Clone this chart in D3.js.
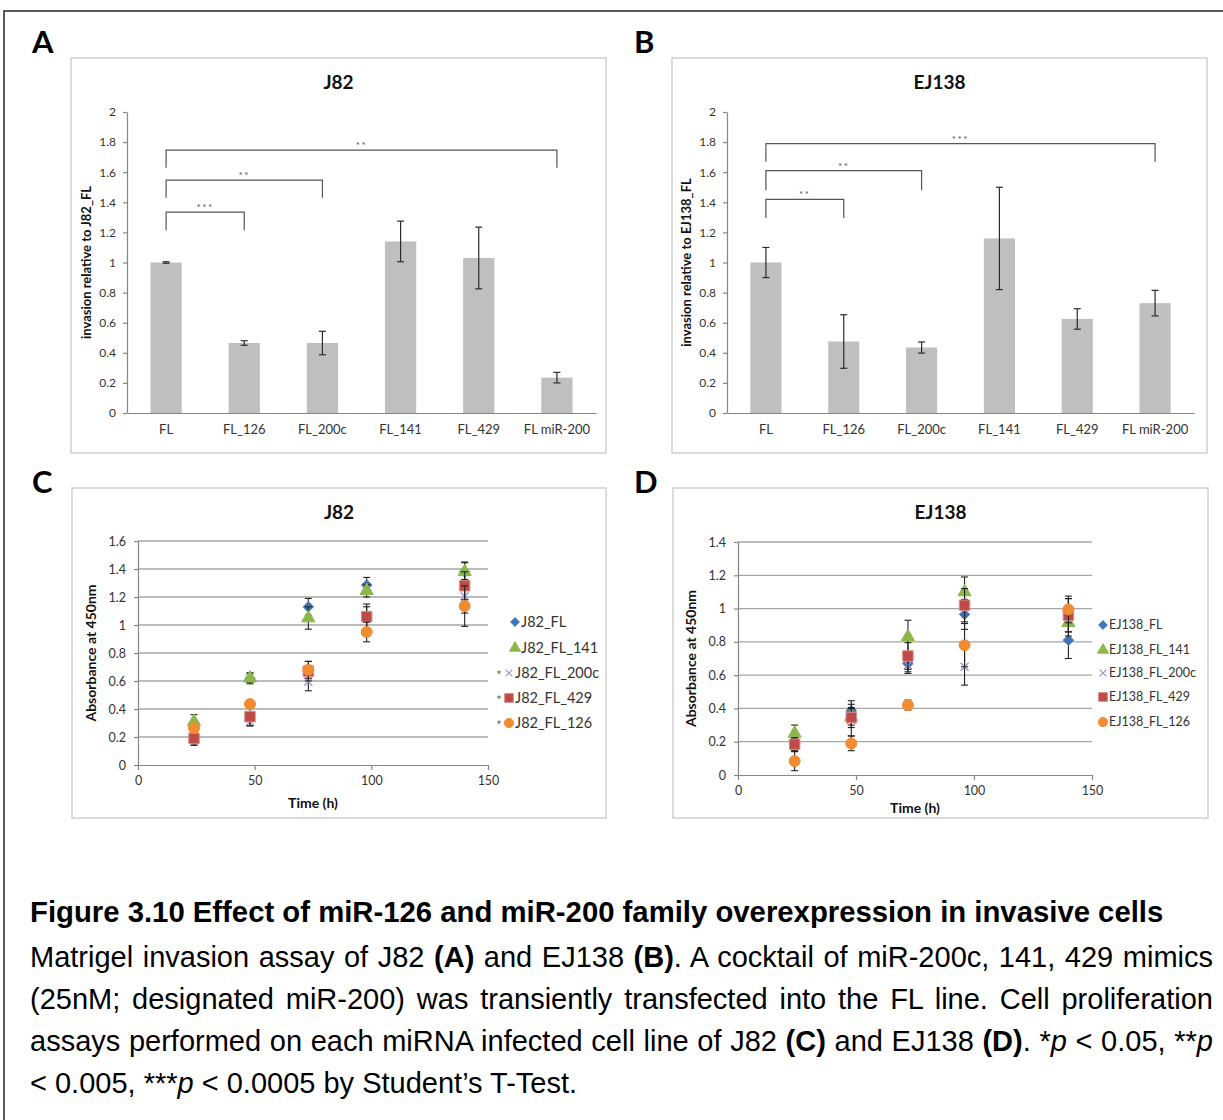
<!DOCTYPE html>
<html>
<head>
<meta charset="utf-8">
<script src="https://cdn.jsdelivr.net/npm/d3@7"></script>
<style>
  body { margin: 0; background: #fff; }
  #wrap { position: relative; width: 1223px; height: 1120px; overflow: hidden; }
  svg { position: absolute; left: 0; top: 0; }
  svg text { font-family: Lato, "Open Sans", sans-serif; }
  .cap { position: absolute; left: 30px; width: 1183px; font-family: "Liberation Sans", Arial, sans-serif; font-size: 29px; color: #000; }
  .head { font-weight: bold; line-height: 34px; font-size: 29.3px; }
  .body { line-height: 42px; }
  .body div { text-align: justify; text-align-last: justify; }
  .body div.last { text-align-last: left; }
</style>
</head>
<body>
<div id="wrap">
  <div class="cap head" style="top:895px">Figure 3.10 Effect of miR-126 and miR-200 family overexpression in invasive cells</div>
  <div class="cap body" style="top:936px">
    <div>Matrigel invasion assay of J82 <b>(A)</b> and EJ138 <b>(B)</b>. A cocktail of miR-200c, 141, 429 mimics</div>
    <div>(25nM; designated miR-200) was transiently transfected into the FL line. Cell proliferation</div>
    <div>assays performed on each miRNA infected cell line of J82 <b>(C)</b> and EJ138 <b>(D)</b>. *<i>p</i> &lt; 0.05, **<i>p</i></div>
    <div class="last">&lt; 0.005, ***<i>p</i> &lt; 0.0005 by Student’s T-Test.</div>
  </div>
</div>
<script>
(function () {

    //bar chart data (panels A and B)
    var barCats = ["FL", "FL_126", "FL_200c", "FL_141", "FL_429", "FL miR-200"];
    var j82Inv = [1.0, 0.465, 0.465, 1.14, 1.03, 0.235];
    var j82InvErr = [0.005, 0.015, 0.078, 0.135, 0.205, 0.035];
    var ej138Inv = [1.0, 0.475, 0.435, 1.16, 0.625, 0.73];
    var ej138InvErr = [0.1, 0.178, 0.037, 0.34, 0.068, 0.085];
    var barTicks = [0, 0.2, 0.4, 0.6, 0.8, 1, 1.2, 1.4, 1.6, 1.8, 2];

    //significance brackets: compared against FL
    var j82SigTo = ["FL_126", "FL_200c", "FL miR-200"];
    var j82SigLevel = [1.335, 1.548, 1.747];
    var j82SigLeg = [1.215, 1.43, 1.63];
    var j82SigStars = ["***", "**", "**"];
    var ej138SigTo = ["FL_126", "FL_200c", "FL miR-200"];
    var ej138SigLevel = [1.42, 1.61, 1.79];
    var ej138SigLeg = [1.295, 1.48, 1.67];
    var ej138SigStars = ["**", "**", "***"];

    //proliferation data (panels C and D)
    var j82Hours = [24, 48, 73, 98, 140];
    var j82Names = ["J82_FL", "J82_FL_141", "J82_FL_200c", "J82_FL_429", "J82_FL_126"];
    var j82Starred = [false, false, true, true, true];
    var j82FL = [0.20, 0.62, 1.13, 1.285, 1.38];
    var j82FLErr = [0.03, 0.03, 0.06, 0.055, 0.07];
    var j82FL141 = [0.31, 0.62, 1.05, 1.245, 1.38];
    var j82FL141Err = [0.05, 0.04, 0.08, 0.045, 0.065];
    var j82FL200c = [0.19, 0.31, 0.595, 1.05, 1.205];
    var j82FL200cErr = [0.04, 0.03, 0.065, 0.08, 0.12];
    var j82FL429 = [0.19, 0.345, 0.67, 1.06, 1.28];
    var j82FL429Err = [0.05, 0.065, 0.07, 0.09, 0.1];
    var j82FL126 = [0.264, 0.435, 0.68, 0.95, 1.135];
    var j82FL126Err = [0.02, 0.02, 0.06, 0.07, 0.145];
    var j82AbsTicks = [0, 0.2, 0.4, 0.6, 0.8, 1, 1.2, 1.4, 1.6];

    var ej138Hours = [24, 48, 72, 96, 140];
    var ej138Names = ["EJ138_FL", "EJ138_FL_141", "EJ138_FL_200c", "EJ138_FL_429", "EJ138_FL_126"];
    var ej138Starred = [false, false, false, false, false];
    var ej138FL = [0.19, 0.386, 0.67, 0.965, 0.81];
    var ej138FLErr = [0.04, 0.06, 0.05, 0.09, 0.11];
    var ej138FL141 = [0.25, 0.35, 0.83, 1.10, 0.915];
    var ej138FL141Err = [0.05, 0.05, 0.10, 0.09, 0.08];
    var ej138FL200c = [0.18, 0.33, 0.66, 0.65, 0.96];
    var ej138FL200cErr = [0.04, 0.095, 0.05, 0.11, 0.1];
    var ej138FL429 = [0.185, 0.345, 0.715, 1.02, 0.96];
    var ej138FL429Err = [0.04, 0.06, 0.08, 0.1, 0.1];
    var ej138FL126 = [0.084, 0.19, 0.42, 0.78, 0.995];
    var ej138FL126Err = [0.058, 0.044, 0.03, 0.13, 0.08];
    var ej138AbsTicks = [0, 0.2, 0.4, 0.6, 0.8, 1, 1.2, 1.4];
    var hourTicks = [0, 50, 100, 150];

    //marker styles, same order as series
    var symX = {
        draw: function (ctx, size) {
            var r = Math.sqrt(size) / 2;
            ctx.moveTo(-r, -r); ctx.lineTo(r, r);
            ctx.moveTo(r, -r); ctx.lineTo(-r, r);
        }
    };
    var seriesSymbols = [d3.symbolDiamond2, d3.symbolTriangle, symX, d3.symbolSquare, d3.symbolCircle];
    var seriesSizes = [70, 75, 64, 110, 95];
    var seriesFill = ["#3f75b8", "#8cb84a", "none", "#bf4b48", "#f28c33"];
    var seriesStroke = ["#3f75b8", "#8cb84a", "#9d92c8", "#d98c8a", "#f28c33"];

    var axisGray = "#868686";
    var textGray = "#333";

    var svg = d3.select("#wrap").append("svg")
        .attr("width", 1223)
        .attr("height", 1120);

    //outer figure border
    svg.append("path")
        .attr("d", "M4,1120V11H1223")
        .attr("fill", "none")
        .attr("stroke", "#595959")
        .attr("stroke-width", 2);

    //panel letters
    [["A", 32, 53], ["B", 634, 53], ["C", 32, 493], ["D", 634, 493]].forEach(function (p) {
        svg.append("text")
            .attr("x", p[1])
            .attr("y", p[2])
            .style("font-size", "31px")
            .style("font-weight", "bold")
            .text(p[0]);
    });

    drawBarPanel({ x: 71, y: 58, w: 535, h: 395 }, { left: 127, right: 596, top: 112, bottom: 413 },
        "J82", "invasion relative to J82_FL", 86, j82Inv, j82InvErr,
        j82SigTo, j82SigLevel, j82SigLeg, j82SigStars);

    drawBarPanel({ x: 672, y: 58, w: 535, h: 395 }, { left: 727, right: 1194, top: 112, bottom: 413 },
        "EJ138", "invasion relative to EJ138_FL", 686, ej138Inv, ej138InvErr,
        ej138SigTo, ej138SigLevel, ej138SigLeg, ej138SigStars);

    drawScatterPanel({ x: 72, y: 488, w: 534, h: 330 }, { left: 138, right: 488, top: 541, bottom: 765 },
        "J82", 91, 803, j82Hours, [j82FL, j82FL141, j82FL200c, j82FL429, j82FL126],
        [j82FLErr, j82FL141Err, j82FL200cErr, j82FL429Err, j82FL126Err],
        j82Names, j82Starred, j82AbsTicks,
        { x: 515, y: [622, 648, 673, 698, 723], font: 14.5 });

    drawScatterPanel({ x: 673, y: 488, w: 535, h: 330 }, { left: 738, right: 1092, top: 542, bottom: 775 },
        "EJ138", 691, 808, ej138Hours, [ej138FL, ej138FL141, ej138FL200c, ej138FL429, ej138FL126],
        [ej138FLErr, ej138FL141Err, ej138FL200cErr, ej138FL429Err, ej138FL126Err],
        ej138Names, ej138Starred, ej138AbsTicks,
        { x: 1103, y: [625, 650, 673, 697, 722], font: 12.5 });

    function styleAxis(g, size) {
        g.select(".domain").attr("stroke", axisGray).attr("stroke-width", 1.2);
        g.selectAll(".tick line").attr("stroke", axisGray).attr("stroke-width", 1.2);
        g.selectAll(".tick text")
            .attr("fill", textGray)
            .style("font-size", size + "px")
            .style("font-family", "Lato, 'Open Sans', sans-serif");
    }

    function drawBarPanel(box, plot, title, yTitle, yTitleX, values, errs, sigTo, sigLevel, sigLeg, sigStars) {
        var g = svg.append("g");

        g.append("rect")
            .attr("x", box.x).attr("y", box.y)
            .attr("width", box.w).attr("height", box.h)
            .attr("fill", "#fff")
            .attr("stroke", "#d0d0d0")
            .attr("stroke-width", 1.5);

        var x = d3.scaleBand()
            .domain(barCats)
            .range([plot.left, plot.right])
            .paddingInner(0.6)
            .paddingOuter(0.3);

        var y = d3.scaleLinear()
            .domain([0, 2])
            .range([plot.bottom, plot.top]);

        //bars
        g.selectAll(".bar")
            .data(values)
            .enter()
            .append("rect")
            .attr("class", "bar")
            .attr("x", function (d, i) { return x(barCats[i]); })
            .attr("width", x.bandwidth())
            .attr("y", function (d) { return y(d); })
            .attr("height", function (d) { return y(0) - y(d); })
            .attr("fill", "#bfbfbf");

        //axes
        var yAxis = g.append("g")
            .attr("transform", "translate(" + plot.left + ",0)")
            .call(d3.axisLeft(y).tickValues(barTicks).tickSize(4).tickPadding(7).tickSizeOuter(0)
                .tickFormat(d3.format("~g")));
        styleAxis(yAxis, 12);

        var xAxis = g.append("g")
            .attr("transform", "translate(0," + plot.bottom + ")")
            .call(d3.axisBottom(x).tickSize(0).tickPadding(12));
        styleAxis(xAxis, 13);

        //error bars
        var eb = g.selectAll(".err")
            .data(values)
            .enter()
            .append("g")
            .attr("class", "err")
            .attr("stroke", "#2b2b2b")
            .attr("stroke-width", 1.2);
        eb.append("line")
            .attr("x1", function (d, i) { return x(barCats[i]) + x.bandwidth() / 2; })
            .attr("x2", function (d, i) { return x(barCats[i]) + x.bandwidth() / 2; })
            .attr("y1", function (d, i) { return y(d - errs[i]); })
            .attr("y2", function (d, i) { return y(d + errs[i]); });
        [-1, 1].forEach(function (s) {
            eb.append("line")
                .attr("x1", function (d, i) { return x(barCats[i]) + x.bandwidth() / 2 - 3.5; })
                .attr("x2", function (d, i) { return x(barCats[i]) + x.bandwidth() / 2 + 3.5; })
                .attr("y1", function (d, i) { return y(d + s * errs[i]); })
                .attr("y2", function (d, i) { return y(d + s * errs[i]); });
        });

        //significance brackets
        var x0 = x(barCats[0]) + x.bandwidth() / 2;
        sigTo.forEach(function (cat, i) {
            var x1 = x(cat) + x.bandwidth() / 2;
            g.append("path")
                .attr("d", "M" + x0 + "," + y(sigLeg[i]) + "V" + y(sigLevel[i]) + "H" + x1 + "V" + y(sigLeg[i]))
                .attr("fill", "none")
                .attr("stroke", "#555")
                .attr("stroke-width", 1.2);
            g.append("text")
                .attr("x", (x0 + x1) / 2)
                .attr("y", y(sigLevel[i]) - 1)
                .attr("text-anchor", "middle")
                .attr("fill", "#555")
                .style("font-size", "10px")
                .style("letter-spacing", "1.5px")
                .text(sigStars[i]);
        });

        //chart title
        g.append("text")
            .attr("x", box.x + box.w / 2)
            .attr("y", 89)
            .attr("text-anchor", "middle")
            .style("font-size", "19px")
            .style("font-weight", "bold")
            .attr("fill", "#111")
            .text(title);

        //y axis title
        g.append("text")
            .attr("transform", "translate(" + yTitleX + "," + ((plot.top + plot.bottom) / 2) + ") rotate(-90)")
            .attr("text-anchor", "middle")
            .attr("dy", "0.35em")
            .style("font-size", "13px")
            .style("font-weight", "bold")
            .attr("fill", "#111")
            .text(yTitle);
    }

    function drawScatterPanel(box, plot, title, yTitleX, xTitleY, hours, series, errs, names, starred, ticks, legend) {
        var g = svg.append("g");

        g.append("rect")
            .attr("x", box.x).attr("y", box.y)
            .attr("width", box.w).attr("height", box.h)
            .attr("fill", "#fff")
            .attr("stroke", "#d0d0d0")
            .attr("stroke-width", 1.5);

        var x = d3.scaleLinear()
            .domain([0, 150])
            .range([plot.left, plot.right]);

        var y = d3.scaleLinear()
            .domain([0, ticks[ticks.length - 1]])
            .range([plot.bottom, plot.top]);

        //horizontal gridlines
        g.selectAll(".grid")
            .data(ticks.slice(1))
            .enter()
            .append("line")
            .attr("class", "grid")
            .attr("x1", plot.left)
            .attr("x2", plot.right)
            .attr("y1", function (d) { return y(d); })
            .attr("y2", function (d) { return y(d); })
            .attr("stroke", "#a6a6a6")
            .attr("stroke-width", 1.3);

        var yAxis = g.append("g")
            .attr("transform", "translate(" + plot.left + ",0)")
            .call(d3.axisLeft(y).tickValues(ticks).tickSize(4).tickPadding(8).tickSizeOuter(0)
                .tickFormat(d3.format("~g")));
        styleAxis(yAxis, 12.5);

        var xAxis = g.append("g")
            .attr("transform", "translate(0," + plot.bottom + ")")
            .call(d3.axisBottom(x).tickValues(hourTicks).tickSize(5).tickPadding(6).tickSizeOuter(0));
        styleAxis(xAxis, 12.5);

        //series: error bars then markers, in Excel draw order
        series.forEach(function (vals, s) {
            var sg = g.append("g");
            var eb = sg.selectAll(".err")
                .data(vals)
                .enter()
                .append("g")
                .attr("stroke", "#222")
                .attr("stroke-width", 1.1);
            eb.append("line")
                .attr("x1", function (d, i) { return x(hours[i]); })
                .attr("x2", function (d, i) { return x(hours[i]); })
                .attr("y1", function (d, i) { return y(d - errs[s][i]); })
                .attr("y2", function (d, i) { return y(d + errs[s][i]); });
            [-1, 1].forEach(function (k) {
                eb.append("line")
                    .attr("x1", function (d, i) { return x(hours[i]) - 3.5; })
                    .attr("x2", function (d, i) { return x(hours[i]) + 3.5; })
                    .attr("y1", function (d, i) { return y(d + k * errs[s][i]); })
                    .attr("y2", function (d, i) { return y(d + k * errs[s][i]); });
            });

            sg.selectAll(".pt")
                .data(vals)
                .enter()
                .append("path")
                .attr("class", "pt")
                .attr("transform", function (d, i) { return "translate(" + x(hours[i]) + "," + y(d) + ")"; })
                .attr("d", d3.symbol().type(seriesSymbols[s]).size(seriesSizes[s]))
                .attr("fill", seriesFill[s])
                .attr("stroke", seriesStroke[s])
                .attr("stroke-width", s == 2 ? 1.3 : 1);
        });

        //legend (starred entries sit a little further left, after the star)
        names.forEach(function (name, i) {
            var ly = legend.y[i];
            var lx = starred[i] ? legend.x - 6 : legend.x;
            g.append("path")
                .attr("transform", "translate(" + lx + "," + ly + ")")
                .attr("d", d3.symbol().type(seriesSymbols[i]).size(seriesSizes[i] * 0.7))
                .attr("fill", seriesFill[i])
                .attr("stroke", seriesStroke[i])
                .attr("stroke-width", i == 2 ? 1.2 : 1);
            g.append("text")
                .attr("x", lx + 6)
                .attr("y", ly)
                .attr("dy", "0.35em")
                .attr("fill", textGray)
                .style("font-size", legend.font + "px")
                .text(name);
            if (starred[i]) {
                g.append("text")
                    .attr("x", lx - 10)
                    .attr("y", ly)
                    .attr("dy", "0.55em")
                    .attr("text-anchor", "middle")
                    .attr("fill", "#666")
                    .style("font-size", "13px")
                    .text("*");
            }
        });

        //titles
        g.append("text")
            .attr("x", box.x + box.w / 2)
            .attr("y", 519)
            .attr("text-anchor", "middle")
            .style("font-size", "19px")
            .style("font-weight", "bold")
            .attr("fill", "#111")
            .text(title);

        g.append("text")
            .attr("x", (plot.left + plot.right) / 2)
            .attr("y", xTitleY)
            .attr("dy", "0.35em")
            .attr("text-anchor", "middle")
            .style("font-size", "14px")
            .style("font-weight", "bold")
            .attr("fill", "#111")
            .text("Time (h)");

        g.append("text")
            .attr("transform", "translate(" + yTitleX + "," + ((plot.top + plot.bottom) / 2) + ") rotate(-90)")
            .attr("text-anchor", "middle")
            .attr("dy", "0.35em")
            .style("font-size", "14px")
            .style("font-weight", "bold")
            .attr("fill", "#111")
            .text("Absorbance at 450nm");
    }

})();
</script>
</body>
</html>
